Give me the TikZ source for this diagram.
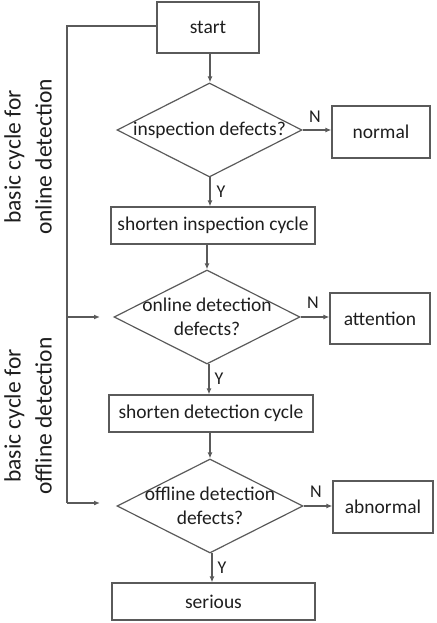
\documentclass[tikz,border=0pt]{standalone}
\usepackage{fontspec}
\setmainfont{Carlito}
\usetikzlibrary{shapes.geometric,arrows.meta}
\definecolor{linegray}{HTML}{5A5A5A}
\definecolor{txtgray}{HTML}{1E1E1E}
\begin{document}
\begin{tikzpicture}[x=1pt,y=-1pt,
  box/.style={draw=linegray,line width=1.2pt,inner sep=0pt,rectangle},
  dia/.style={draw=linegray,line width=1.2pt,inner sep=0pt,diamond},
  txt/.style={text=txtgray,font=\fontsize{19.5}{23.5}\selectfont,align=center,inner sep=0pt},
  lbl/.style={text=txtgray,font=\fontsize{18}{20}\selectfont,inner sep=0pt},
  side/.style={text=txtgray,font=\fontsize{23.5}{31}\selectfont,align=center,rotate=90,inner sep=0pt},
  conn/.style={draw=linegray,line width=1.2pt},
  arr/.style={conn,-{Latex[length=6pt,width=5pt]}}]
\useasboundingbox (0,0) rectangle (436,623);
% boxes
\node[box,minimum width=102pt,minimum height=51pt] (start) at (208,27.5) {};
\node[txt] at (start.center) {start};
\node[dia,minimum width=185pt,minimum height=94pt] (d1) at (209.5,130) {};
\node[txt] at (d1.center) {inspection defects?};
\node[box,minimum width=98pt,minimum height=52pt] (normal) at (381,132) {};
\node[txt] at (normal.center) {normal};
\node[box,minimum width=204pt,minimum height=37pt] (sic) at (213,225.5) {};
\node[txt] at (sic.center) {shorten inspection cycle};
\node[dia,minimum width=186pt,minimum height=94pt] (d2) at (207,317) {};
\node[txt] at (d2.center) {online detection\\defects?};
\node[box,minimum width=100pt,minimum height=51pt] (attention) at (380,318.5) {};
\node[txt] at (attention.center) {attention};
\node[box,minimum width=204pt,minimum height=37pt] (sdc) at (211,413.5) {};
\node[txt] at (sdc.center) {shorten detection cycle};
\node[dia,minimum width=186pt,minimum height=94pt] (d3) at (210,506) {};
\node[txt] at (d3.center) {offline detection\\defects?};
\node[box,minimum width=100pt,minimum height=52pt] (abnormal) at (383,507) {};
\node[txt] at (abnormal.center) {abnormal};
\node[box,minimum width=203pt,minimum height=37pt] (serious) at (213.5,601.5) {};
\node[txt] at (serious.center) {serious};
% side labels
\node[side] (s1) at (28,157) {basic cycle for\\online detection};
\node[side] (s2) at (28,416) {basic cycle for\\offline detection};
% vertical arrows
\coordinate (v1) at (210,53);
\draw[arr] (v1) -- (v1 |- d1.north);
\coordinate (v2) at (210,177);
\draw[arr] (v2) -- (v2 |- sic.north);
\coordinate (v3) at (207,244);
\draw[arr] (v3) -- (v3 |- d2.north);
\coordinate (v4) at (209,364);
\draw[arr] (v4) -- (v4 |- sdc.north);
\coordinate (v5) at (210,432);
\draw[arr] (v5) -- (v5 |- d3.north);
\coordinate (v6) at (212,553);
\draw[arr] (v6) -- (v6 |- serious.north);
% N arrows
\draw[arr] (d1.east) -- (d1.east -| normal.west);
\draw[arr] (d2.east) -- (d2.east -| attention.west);
\draw[arr] (d3.east) -- (d3.east -| abnormal.west);
% labels
\node[lbl] (n1) at (315,117) {N};
\node[lbl] (n2) at (313,303) {N};
\node[lbl] (n3) at (316,492) {N};
\node[lbl] (y1) at (221,192) {Y};
\node[lbl] (y2) at (219,379) {Y};
\node[lbl] (y3) at (222,568) {Y};
% loop
\coordinate (lc) at (67,26);
\coordinate (lb) at (67,503);
\coordinate (a3) at (100,503);
\coordinate (lm) at (67,317);
\coordinate (a2) at (100,317);
\draw[conn] (start.west |- lc) -- (lc) -- (lb);
\draw[arr] (lb) -- (a3);
\draw[arr] (lm) -- (a2);
\end{tikzpicture}
\end{document}
